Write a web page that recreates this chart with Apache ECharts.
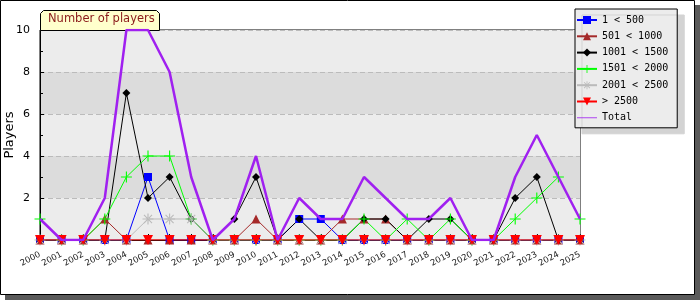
<!DOCTYPE html>
<html><head><meta charset="utf-8">
<script src="https://cdn.jsdelivr.net/npm/echarts@6/dist/echarts.min.js"></script>
<style>html,body{margin:0;padding:0;background:#fff}#c{width:700px;height:300px}</style>
</head><body><div id="c"></div>
<script>
const years = ['2000','2001','2002','2003','2004','2005','2006','2007','2008','2009','2010','2011','2012','2013','2014','2015','2016','2017','2018','2019','2020','2021','2022','2023','2024','2025'];
const s1to500     = [0,0,0,0,0,3,0,0,0,0,0,0,1,1,0,0,0,0,0,0,0,0,0,0,0,0];
const s501to1000  = [0,0,0,1,0,0,0,0,0,0,1,0,0,0,1,1,1,0,0,0,0,0,0,0,0,0];
const s1001to1500 = [0,0,0,0,7,2,3,1,0,1,3,0,1,0,0,1,1,0,1,1,0,0,2,3,0,0];
const s1501to2000 = [1,0,0,1,3,4,4,1,0,0,0,0,0,0,0,1,0,1,0,1,0,0,1,2,3,1];
const s2001to2500 = [0,0,0,0,0,1,1,1,0,0,0,0,0,0,0,0,0,0,0,0,0,0,0,0,0,0];
const sOver2500   = [0,0,0,0,0,0,0,0,0,0,0,0,0,0,0,0,0,0,0,0,0,0,0,0,0,0];
const sTotal      = [1,0,0,2,10,10,8,3,0,1,4,0,2,1,1,3,2,1,1,2,0,0,3,5,3,1];
const seriesNames = ['1 < 500','501 < 1000','1001 < 1500','1501 < 2000','2001 < 2500','> 2500','Total'];
const yTicks = [2,4,6,8,10];

const plusPath = 'path://M4.5,0h1v10h-1z M0,4.5h10v1h-10z';
const starPath = 'path://M4.5,0h1v10h-1z M0,4.5h10v1h-10z M1,1.7L1.7,1L9,8.3L8.3,9z M9,1.7L8.3,1L1,8.3L1.7,9z';
const totalIcon = 'path://M0,4.5h24v1h-24z';

function mk(name, data, color, symbol, size, width, z) {
  const s = {
    name, type:'line', data, symbol, symbolSize:size,
    lineStyle:{color, width}, itemStyle:{color}, z, animation:false,
    emphasis:{disabled:true}
  };
  if (symbol === 'none') { s.showSymbol = false; }
  return s;
}
const legendData = seriesNames.map(n => n === 'Total' ? {name:n, icon:totalIcon, itemStyle:{color:'#a020f0'}} : {name:n});
const chart = echarts.init(document.getElementById('c'), null, {renderer:'canvas'});
chart.setOption({
  animation:false,
  textStyle:{fontFamily:'DejaVu Sans'},
  graphic:[
    {type:'rect', shape:{x:5,y:5,width:695,height:295}, style:{fill:'#5a5a5a'}, z:-10, silent:true},
    {type:'rect', shape:{x:0.5,y:0.5,width:694,height:294}, style:{fill:'#fff', stroke:'#000', lineWidth:1}, z:-9, silent:true},
    {type:'polygon', shape:{points:[[40.5,30.5],[40.5,13.5],[43.5,10.5],[156.5,10.5],[159.5,13.5],[159.5,30.5]]},
      style:{fill:'#ffffcc', stroke:'#000', lineWidth:1}, z:5, silent:true},
    {type:'text', left:48, top:13, style:{text:'Number of players', fill:'#8b1a1a', font:'11.5px "DejaVu Sans"'}, z:6, silent:true}
  ],
  grid:{left:40, right:120, top:30, bottom:60, show:true, borderColor:'#000', borderWidth:1, backgroundColor:'transparent',
        containLabel:false, outerBoundsMode:'none'},
  legend:{
    orient:'vertical', left:575, top:9,
    data:legendData,
    itemWidth:20, itemHeight:10, itemGap:6.3,
    padding:[6,9,5,1],
    backgroundColor:'#ececec', borderColor:'#000', borderWidth:1,
    shadowColor:'#d3d3d3', shadowBlur:0, shadowOffsetX:7, shadowOffsetY:6,
    textStyle:{fontFamily:'DejaVu Sans Mono', fontSize:10, color:'#000'},
    selectedMode:false
  },
  xAxis:{
    type:'category', data:years, boundaryGap:false,
    axisLine:{lineStyle:{color:'#000'}},
    axisTick:{show:true, inside:true, length:6, interval:0, lineStyle:{color:'#000'}},
    axisLabel:{rotate:28, interval:0, fontSize:8.5, color:'#222', margin:14, fontFamily:'DejaVu Sans'},
    splitLine:{show:false}
  },
  yAxis:{
    type:'value', min:0, max:10, interval:2,
    name:'Players', nameLocation:'middle', nameGap:24, nameRotate:90, nameMoveOverlap:false,
    nameTextStyle:{fontSize:13, color:'#000', fontFamily:'DejaVu Sans'},
    axisLine:{show:true, lineStyle:{color:'#000'}},
    axisTick:{show:true, inside:true, length:4, lineStyle:{color:'#000'}},
    minorTick:{show:true, splitNumber:2, length:3, lineStyle:{color:'#000'}},
    axisLabel:{fontSize:11, color:'#000', margin:10, formatter:v => yTicks.includes(v) ? String(v) : ''},
    splitLine:{show:true, lineStyle:{color:'#bbbbbb', type:[5,3]}},
    splitArea:{show:true, areaStyle:{color:['#ececec','#dcdcdc']}}
  },
  series:[
    mk(seriesNames[0], s1to500, '#0000ff', 'rect', 8, 1, 3),
    mk(seriesNames[1], s501to1000, '#a52a2a', 'triangle', 9, 1, 3),
    mk(seriesNames[2], s1001to1500, '#000000', 'diamond', 8, 1, 3),
    mk(seriesNames[3], s1501to2000, '#00ff00', plusPath, 11, 1, 3),
    mk(seriesNames[4], s2001to2500, '#bbbbbb', starPath, 11, 1, 3),
    Object.assign(mk(seriesNames[5], sOver2500, '#ff0000', 'triangle', 10, 1, 4), {symbolRotate:180}),
    mk(seriesNames[6], sTotal, '#a020f0', 'none', 0, 2.5, 5)
  ]
});
</script></body></html>
